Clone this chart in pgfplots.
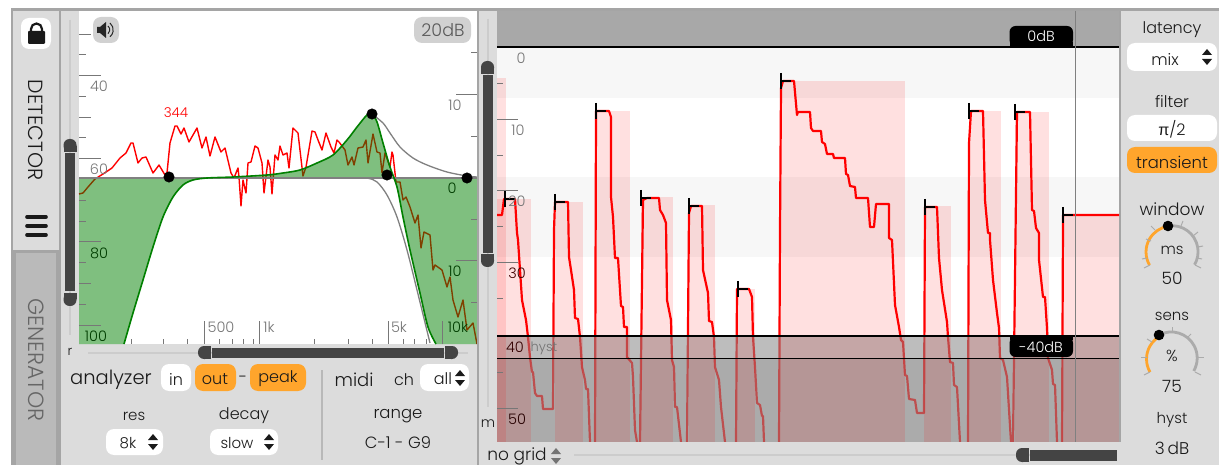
\documentclass[border=0pt]{standalone}
\usepackage{fontspec}
\usepackage{pgfplots}
\pgfplotsset{compat=1.18}
\setmainfont{Poppins Light}
\newfontfamily\symfont{Liberation Sans}
\definecolor{panel}{HTML}{DCDCDC}
\definecolor{edge}{HTML}{A5A5A5}
\definecolor{orangeb}{HTML}{FFA52C}
\definecolor{thumb}{HTML}{444444}
\definecolor{ink}{HTML}{1A1A1A}
\definecolor{track}{HTML}{CCCCCC}
\definecolor{scalec}{HTML}{777777}
\colorlet{scaleg}{black!60!green!60!black}
\newcommand{\rect}[5]{\addplot[draw=none,fill=#5,forget plot] coordinates {(#1,#2) (#3,#2) (#3,#4) (#1,#4)} --cycle;}
\newcommand{\seg}[5]{\addplot[#5,forget plot] coordinates {(#1,#2) (#3,#4)};}
\newcommand{\txt}[5]{\node[text=#3,font=\fontsize{#4}{#4}\selectfont,inner sep=0pt,anchor=center] at (axis cs:#1,#2) {#5};}
\newcommand{\btn}[5]{\fill[#5,rounded corners=8pt] (axis cs:#1,#2) rectangle (axis cs:#3,#4);}
\newcommand{\updown}[3]{\fill[#3] (axis cs:#1-5,#2-2) -- (axis cs:#1+5,#2-2) -- (axis cs:#1,#2-8) --cycle;\fill[#3] (axis cs:#1-5,#2+2) -- (axis cs:#1+5,#2+2) -- (axis cs:#1,#2+8) --cycle;}
\newcommand{\peak}[2]{\addplot[black,line width=1.5pt,forget plot] coordinates {(#1,#2-8) (#1,#2+8)};\addplot[black,line width=1.5pt,forget plot] coordinates {(#1,#2) (#1+10,#2)};}
% rounded cap: whole rounded box, then the flat half made square
\newcommand{\capbox}[8]{\fill[thumb,rounded corners=6pt] (axis cs:#1,#2) rectangle (axis cs:#3,#4);\fill[thumb] (axis cs:#5,#6) rectangle (axis cs:#7,#8);}
\begin{document}
\begin{tikzpicture}
\begin{axis}[scale only axis,width=1219pt,height=465pt,xmin=0,xmax=1219,ymin=0,ymax=465,y dir=reverse,hide axis,clip=false,no markers,every axis plot/.append style={line join=round}]
% chrome
\rect{0}{0}{1219}{465}{white}
\rect{11}{8}{1219}{465}{edge}
\rect{13}{11}{59}{250}{panel}
\rect{16}{253}{56}{465}{black!27}
\rect{61}{11}{477}{465}{panel}
\rect{479}{11}{497}{465}{panel}
\rect{79}{11}{477}{344}{white}
% left plot: spectrum below the green overlay
\addplot[red,line width=1.4pt,forget plot] coordinates {(79,194)(83,193)(88,187)(95,179)(103,174)(112,168)(120,158)(126,153)(131,143)(133,143)(138,163)(142,158)(146,157)(153,173)(159,165)(165,175)(167,173)(170,143)(175,126)(177,126)(181,134)(184,128)(189,142)(197,128)(202,148)(206,137)(210,156)(215,137)(221,152)(225,148)(231,173)(234,178)(238,168)(239,177)(241,206)(243,180)(246,193)(248,163)(251,162)(255,146)(258,148)(262,163)(264,193)(268,160)(270,167)(272,194)(275,155)(278,160)(280,146)(283,155)(287,153)(289,168)(293,128)(298,133)(303,176)(306,167)(312,131)(315,132)(318,140)(322,150)(326,133)(331,147)(334,153)(337,140)(339,142)(345,150)(348,165)(352,157)(354,165)(358,148)(363,147)(366,140)(368,163)(373,134)(377,152)(380,153)(382,173)(385,153)(390,167)(392,152)(393,155)(396,182)(400,182)(403,200)(406,197)(410,207)(415,223)(418,215)(421,248)(424,232)(430,235)(433,270)(435,265)(442,270)(447,287)(450,277)(453,300)(458,317)(463,300)(467,330)(473,323)(477,344)};
\addplot[draw=none,fill=green!50!black,fill opacity=0.5,forget plot] coordinates {(79,178)(79,344)(124,344)(133,313)(143,280)(153,247)(163,217)(173,197)(183,185)(193,180)(207,178)} --cycle;
\addplot[draw=none,fill=green!50!black,fill opacity=0.5,forget plot] coordinates {(207,178)(233,177)(267,175)(283,173)(300,170)(317,163)(333,155)(347,140)(357,127)(367,115)(372,114)(377,122)(383,143)(390,167)(393,178)} --cycle;
\addplot[draw=none,fill=green!50!black,fill opacity=0.5,forget plot] coordinates {(393,178)(397,187)(403,217)(410,250)(420,293)(428,327)(436,344)(477,344)(477,178)} --cycle;
\addplot[black!50,line width=1.5pt,forget plot] coordinates {(79,178)(477,178)};
\addplot[black!50,line width=1.3pt,smooth,forget plot] coordinates {(350,178)(367,178)(377,182)(387,195)(397,217)(407,250)(417,290)(430,343)};
\addplot[black!50,line width=1.3pt,smooth,forget plot] coordinates {(372,114)(383,123)(390,133)(400,147)(413,158)(427,165)(447,172)(467,176)(477,177)};
\addplot[green!50!black,line width=1.6pt,smooth,forget plot] coordinates {(124,344)(133,313)(143,280)(153,247)(163,217)(173,197)(183,185)(193,180)(207,178)(233,177)(267,175)(283,173)(300,170)(317,163)(333,155)(347,140)(357,127)(367,115)(372,114)(377,122)(383,143)(390,167)(397,187)(403,217)(410,250)(420,293)(428,327)(436,344)};
\addplot[only marks,mark=*,mark size=5.3pt,black,forget plot] coordinates {(169,177)(372,114)(387,175)(467,178)};
% left plot ticks
\seg{79}{34}{91}{34}{scalec}\seg{79}{54}{86}{54}{scalec}\seg{79}{75}{101}{75}{scalec}\seg{79}{96}{86}{96}{scalec}\seg{79}{117}{91}{117}{scalec}\seg{79}{137}{86}{137}{scalec}\seg{79}{158}{101}{158}{scalec}\seg{79}{200}{86}{200}{scalec}\seg{79}{221}{86}{221}{scalec}\seg{79}{241}{101}{241}{scalec}\seg{79}{262}{86}{262}{scalec}\seg{79}{283}{91}{283}{scalec}\seg{79}{304}{86}{304}{scalec}\seg{79}{325}{101}{325}{scalec}
\seg{471}{52}{477}{52}{scalec}\seg{456}{94}{477}{94}{scalec}\seg{471}{136}{477}{136}{scalec}\seg{471}{219}{477}{219}{scalec}\seg{456}{260}{477}{260}{scalec}\seg{471}{302}{477}{302}{scalec}
\seg{204}{321}{204}{344}{scalec}\seg{259}{321}{259}{344}{scalec}\seg{388}{321}{388}{344}{scalec}\seg{442}{321}{442}{344}{scalec}
\seg{131}{339}{131}{344}{scalec}\seg{163}{339}{163}{344}{scalec}\seg{187}{339}{187}{344}{scalec}\seg{219}{339}{219}{344}{scalec}\seg{232}{339}{232}{344}{scalec}\seg{243}{339}{243}{344}{scalec}\seg{253}{339}{253}{344}{scalec}\seg{314}{339}{314}{344}{scalec}\seg{348}{339}{348}{344}{scalec}\seg{372}{339}{372}{344}{scalec}\seg{403}{339}{403}{344}{scalec}\seg{414}{339}{414}{344}{scalec}\seg{426}{339}{426}{344}{scalec}
% right plot
\rect{497}{11}{1119}{46}{black!34}
\rect{497}{48}{1119}{98}{black!3}
\rect{497}{98}{1119}{177}{white}
\rect{497}{177}{1119}{257}{black!3}
\rect{497}{257}{1119}{336}{white}
\rect{497}{336}{1119}{442}{white}
\addplot[draw=none,fill=black,fill opacity=0.16,forget plot] coordinates {(497,358)(1119,358)(1119,442)(497,442)} --cycle;
\addplot[red,line width=2.2pt,forget plot] coordinates {(497,215)(502,215)(504,199)(515,199)(517,233)(518,240)(522,300)(526,320)(528,337)(530,357)(532,372)(533,372)(535,393)(537,396)(542,396)(543,409)(553,409)(554,230)(555,202)(568,202)(569,257)(571,270)(574,290)(575,318)(578,319)(580,337)(582,367)(585,380)(586,389)(588,389)(590,442)(591,450)(594,450)(595,445)(596,111)(609,111)(611,117)(611,197)(613,217)(615,258)(618,258)(621,306)(623,307)(624,327)(627,327)(627,357)(632,363)(633,377)(635,430)(637,442)(638,450)(640,450)(640,442)(643,200)(647,198)(659,198)(660,210)(663,215)(666,223)(667,300)(671,320)(672,360)(674,367)(675,407)(677,407)(681,442)(683,450)(686,450)(687,442)(689,213)(691,206)(702,206)(703,270)(708,293)(709,321)(712,322)(714,337)(715,367)(719,380)(721,407)(725,442)(728,450)(735,450)(736,442)(737,289)(749,289)(752,297)(753,337)(755,367)(757,403)(760,405)(762,416)(763,416)(764,442)(765,450)(778,450)(779,442)(780,230)(781,88)(783,81)(794,81)(797,115)(798,112)(810,112)(811,128)(813,131)(821,131)(822,142)(825,144)(827,154)(833,154)(834,158)(845,158)(846,174)(848,175)(850,186)(855,187)(856,198)(868,198)(870,227)(874,227)(876,204)(889,204)(889,238)(892,240)(895,305)(899,327)(901,340)(903,342)(905,375)(907,376)(909,399)(915,400)(917,413)(924,413)(925,207)(937,207)(939,258)(942,290)(947,322)(948,337)(950,362)(953,363)(954,385)(957,387)(960,442)(962,450)(968,450)(968,442)(969,143)(971,111)(983,111)(985,200)(988,233)(990,233)(990,240)(993,280)(997,313)(999,328)(1000,358)(1003,360)(1007,377)(1011,442)(1013,450)(1014,450)(1013,442)(1017,112)(1030,112)(1032,210)(1034,211)(1036,228)(1039,233)(1039,260)(1043,297)(1045,297)(1047,328)(1048,358)(1052,370)(1053,384)(1055,385)(1057,442)(1058,450)(1061,450)(1062,442)(1063,223)(1063,215)(1119,215)};
% threshold overlay
\addplot[draw=none,fill=black!45,fill opacity=0.57,forget plot] coordinates {(497,336)(1119,336)(1119,442)(497,442)} --cycle;
% held-peak rectangles
\addplot[draw=none,fill=red,fill opacity=0.12,forget plot] coordinates {(497,78)(506,78)(506,442)(497,442)} --cycle;
\addplot[draw=none,fill=red,fill opacity=0.12,forget plot] coordinates {(497,199)(531,199)(531,442)(497,442)} --cycle;
\addplot[draw=none,fill=red,fill opacity=0.12,forget plot] coordinates {(555,202)(583,202)(583,442)(555,442)} --cycle;
\addplot[draw=none,fill=red,fill opacity=0.12,forget plot] coordinates {(596,111)(630,111)(630,442)(596,442)} --cycle;
\addplot[draw=none,fill=red,fill opacity=0.12,forget plot] coordinates {(641,197)(673,197)(673,442)(641,442)} --cycle;
\addplot[draw=none,fill=red,fill opacity=0.12,forget plot] coordinates {(689,205)(715,205)(715,442)(689,442)} --cycle;
\addplot[draw=none,fill=red,fill opacity=0.12,forget plot] coordinates {(737,289)(755,289)(755,442)(737,442)} --cycle;
\addplot[draw=none,fill=red,fill opacity=0.12,forget plot] coordinates {(780,81)(905,81)(905,442)(780,442)} --cycle;
\addplot[draw=none,fill=red,fill opacity=0.12,forget plot] coordinates {(924,206)(951,206)(951,442)(924,442)} --cycle;
\addplot[draw=none,fill=red,fill opacity=0.12,forget plot] coordinates {(969,111)(1001,111)(1001,442)(969,442)} --cycle;
\addplot[draw=none,fill=red,fill opacity=0.12,forget plot] coordinates {(1015,112)(1049,112)(1049,442)(1015,442)} --cycle;
\addplot[draw=none,fill=red,fill opacity=0.12,forget plot] coordinates {(1062,215)(1119,215)(1119,442)(1062,442)} --cycle;
% threshold lines
\seg{497}{47}{1119}{47}{black,line width=2pt}
\seg{497}{336}{1119}{336}{black,line width=1.8pt}
\seg{497}{358}{1119}{358}{black,line width=1pt}
\seg{1075}{11}{1075}{442}{black!50,line width=0.9pt}
% peak marks
\peak{505}{199}\peak{555}{202}\peak{596}{111}\peak{641}{198}\peak{689}{206}\peak{738}{289}\peak{781}{81}\peak{925}{207}\peak{969}{111}\peak{1015}{112}\peak{1063}{215}
% right plot scale
\seg{497}{119}{518}{119}{scalec}\seg{497}{190}{518}{190}{scalec}\seg{497}{262}{518}{262}{scalec}\seg{497}{408}{518}{408}{scalec}
\seg{497}{83}{503}{83}{scalec}\seg{497}{155}{503}{155}{scalec}\seg{497}{226}{503}{226}{scalec}\seg{497}{298}{503}{298}{scalec}\seg{497}{372}{503}{372}{scalec}
% bottom strip and panels over the plots
\rect{497}{442}{1121}{465}{panel}
\rect{1121}{11}{1219}{465}{panel}
\rect{477}{11}{479}{465}{edge}
\rect{59}{11}{61}{465}{edge}
\seg{574}{455}{1018}{455}{track,line width=1.5pt}
\seg{70}{20}{70}{335}{track,line width=1.5pt}
\seg{488}{19}{488}{407}{track,line width=1.5pt}
\seg{88}{353}{468}{353}{track,line width=1.5pt}
\rect{1030}{450}{1117}{461}{thumb}
\rect{65}{153}{75}{291}{thumb}
\rect{483}{75}{493}{253}{thumb}
\rect{212}{348}{444}{358}{thumb}
\end{axis}
\begin{axis}[scale only axis,width=1219pt,height=465pt,xmin=0,xmax=1219,ymin=0,ymax=465,y dir=reverse,hide axis,clip=false,no markers]
% slider caps
\capbox{63.5}{139}{76.5}{152}{63.5}{146}{76.5}{152}
\capbox{63.5}{293}{76.5}{306}{63.5}{293}{76.5}{299}
\capbox{481}{61}{494}{74}{481}{68}{494}{74}
\capbox{481}{254}{494}{267}{481}{254}{494}{260}
\capbox{198}{346}{211}{359}{205}{346}{211}{359}
\capbox{445}{346}{458}{359}{445}{346}{451}{359}
\capbox{1016}{448}{1029}{462}{1023}{448}{1029}{462}
% lock tab
\btn{21}{18}{51}{49}{white}
\fill[black!90,rounded corners=1pt] (axis cs:28,31) rectangle (axis cs:45,44);
\draw[black!90,line width=2.2pt] (axis cs:31,32) -- (axis cs:31,29) arc[start angle=180,end angle=0,radius=5.5pt] -- (axis cs:42,32);
\node[text=ink,rotate=-90,font=\fontsize{20.5}{20.5}\selectfont,inner sep=0pt] at (axis cs:36,130) {DETECTOR};
\node[text=black!60,rotate=-90,font=\fontsize{22}{22}\selectfont,inner sep=0pt] at (axis cs:36,360) {GENERATOR};
\draw[black!90,line width=3.6pt,line cap=round] (axis cs:27,217) -- (axis cs:46,217);
\draw[black!90,line width=3.6pt,line cap=round] (axis cs:27,226) -- (axis cs:46,226);
\draw[black!90,line width=3.6pt,line cap=round] (axis cs:27,235) -- (axis cs:46,235);
% speaker + level
\btn{93}{17}{119}{43}{black!18}
\fill[black!85] (axis cs:97,27) -- (axis cs:100,27) -- (axis cs:106,22) -- (axis cs:106,38) -- (axis cs:100,33) -- (axis cs:97,33) --cycle;
\draw[black!85,line width=1pt] (axis cs:108,26) arc[start angle=50,end angle=-50,radius=5pt];
\draw[black!85,line width=1pt] (axis cs:110,23) arc[start angle=50,end angle=-50,radius=9pt];
\btn{414}{17}{471}{43}{black!18}
\txt{443}{30}{black!65}{17.5}{20dB}
\txt{176}{113}{red}{13.5}{344}
\txt{99}{86}{scalec}{14.5}{40}
\txt{99}{169}{scalec}{14.5}{60}
\txt{99}{253}{scaleg}{14.5}{80}
\txt{96}{336}{scaleg}{14.5}{100}
\txt{455}{105}{scalec}{14.5}{10}
\txt{452}{188}{scaleg}{14.5}{0}
\txt{455}{271}{scaleg}{14.5}{10}
\txt{221}{327}{scalec}{14.5}{500}
\txt{269}{327}{scalec}{14.5}{1k}
\txt{399}{327}{scalec}{14.5}{5k}
\txt{458}{327}{scaleg}{14.5}{10k}
% right plot labels
\txt{521}{58}{scalec}{14.5}{0}
\txt{518}{130}{scalec}{14.5}{10}
\txt{517}{201}{scalec}{14.5}{20}
\txt{517}{273}{black!50!red!50!black}{14.5}{30}
\txt{515}{347}{black!50!red!40!black}{14.5}{40}
\txt{544}{348}{black!55}{13}{hyst}
\txt{517}{419}{black!50!red!30!black}{14.5}{50}
\fill[black,rounded corners=6pt] (axis cs:1009.5,46) -- (axis cs:1009.5,26) -- (axis cs:1073,26) -- (axis cs:1073,46) --cycle;
\fill[black,rounded corners=6pt] (axis cs:1009.5,337) -- (axis cs:1009.5,357) -- (axis cs:1073,357) -- (axis cs:1073,337) --cycle;
\rect{1009.5}{336}{1073}{340}{black}
\rect{1009.5}{42}{1073}{47}{black}
\txt{1041}{36}{white}{14.5}{0dB}
\txt{1041}{347}{white}{14.5}{-40dB}
\txt{70}{352}{ink}{13}{r}
\txt{488}{424}{ink}{14}{m}
\txt{517}{456}{ink}{17}{no grid}
\updown{556}{456}{black!55}
% bottom controls
\txt{111}{380}{ink}{19.5}{analyzer}
\btn{161}{364}{191}{391}{white}\txt{176}{379}{ink}{16}{in}
\btn{195}{364}{236}{391}{orangeb}\txt{215}{379}{ink}{16}{out}
\txt{243}{379}{ink}{16}{-}
\btn{250}{364}{306}{391}{orangeb}\txt{278}{379}{ink}{16}{peak}
\seg{322}{370}{322}{460}{track!90!black,line width=1.5pt}
\txt{354}{380}{ink}{18}{midi}
\txt{404}{380}{ink}{16}{ch}
\btn{420}{364}{469}{391}{white}\txt{443}{379}{ink}{16}{all}\updown{460}{378}{ink}
\txt{134}{416}{ink}{15}{res}
\btn{106}{429}{163}{455}{white}\txt{128}{443}{ink}{15}{8k}\updown{153}{442}{ink}
\txt{244}{416}{ink}{16}{decay}
\btn{210}{429}{278}{455}{white}\txt{237}{443}{ink}{15}{slow}\updown{269}{442}{ink}
\txt{398}{416}{ink}{16.5}{range}
\txt{398}{443}{ink}{16.3}{C-1 - G9}
% right panel
\txt{1172}{30}{ink}{16}{latency}
\btn{1127}{43}{1217}{71}{white}\txt{1165}{59}{ink}{16}{mix}\updown{1207}{57}{ink}
\txt{1172}{102}{ink}{16}{filter}
\btn{1127}{115}{1217}{141}{white}\txt{1172}{129}{ink}{16}{{\symfont π}/2}
\btn{1127}{147}{1217}{173}{orangeb}\txt{1172}{162}{ink}{16.4}{transient}
\txt{1172}{209}{ink}{17}{window}
\draw[black!33,line width=2.8pt] (axis cs:1168,226) arc[start angle=99,end angle=-30,radius=26pt];
\draw[orangeb,line width=2.8pt] (axis cs:1149.5,265) arc[start angle=210,end angle=99,radius=26pt];
\draw[black!33,line width=1pt] (axis cs:1146,239) -- (axis cs:1151,241);
\draw[black!33,line width=1pt] (axis cs:1150,265) -- (axis cs:1144,268);
\draw[black!33,line width=1pt] (axis cs:1195,265) -- (axis cs:1201,268);
\draw[black!33,line width=1pt] (axis cs:1181,226) -- (axis cs:1183,221);
\draw[black!33,line width=1pt] (axis cs:1193,236) -- (axis cs:1198,232);
\draw[black!33,line width=1pt] (axis cs:1198,247) -- (axis cs:1203,246);
\draw[black!33,line width=1pt] (axis cs:1197,258) -- (axis cs:1202,259);
\draw[black!33,line width=1pt] (axis cs:1147,258) -- (axis cs:1142,259);
\draw[black!33,line width=1pt] (axis cs:1155,230) -- (axis cs:1151,226);
\fill[black] (axis cs:1168,226) circle[radius=5.3pt];
\txt{1172}{250}{ink}{15}{ms}
\txt{1172}{278}{ink}{17}{50}
\txt{1172}{316}{ink}{15}{sens}
\draw[black!33,line width=2.8pt] (axis cs:1159,335) arc[start angle=118,end angle=-30,radius=26pt];
\draw[orangeb,line width=2.8pt] (axis cs:1150,372) arc[start angle=210,end angle=118,radius=26pt];
\draw[black!33,line width=1pt] (axis cs:1172,333) -- (axis cs:1172,327);
\draw[black!33,line width=1pt] (axis cs:1187,338) -- (axis cs:1191,334);
\draw[black!33,line width=1pt] (axis cs:1198,357) -- (axis cs:1204,357);
\draw[black!33,line width=1pt] (axis cs:1195,372) -- (axis cs:1201,375);
\draw[black!33,line width=1pt] (axis cs:1150,372) -- (axis cs:1144,375);
\draw[black!33,line width=1pt] (axis cs:1147,357) -- (axis cs:1141,357);
\draw[black!33,line width=1pt] (axis cs:1152,342) -- (axis cs:1147,339);
\fill[black] (axis cs:1159,335) circle[radius=5.3pt];
\txt{1172}{356}{ink}{16}{\%}
\txt{1172}{386}{ink}{17}{75}
\txt{1172}{420}{ink}{15}{hyst}
\txt{1172}{448}{ink}{17}{3\,dB}
\end{axis}
\end{tikzpicture}
\end{document}
